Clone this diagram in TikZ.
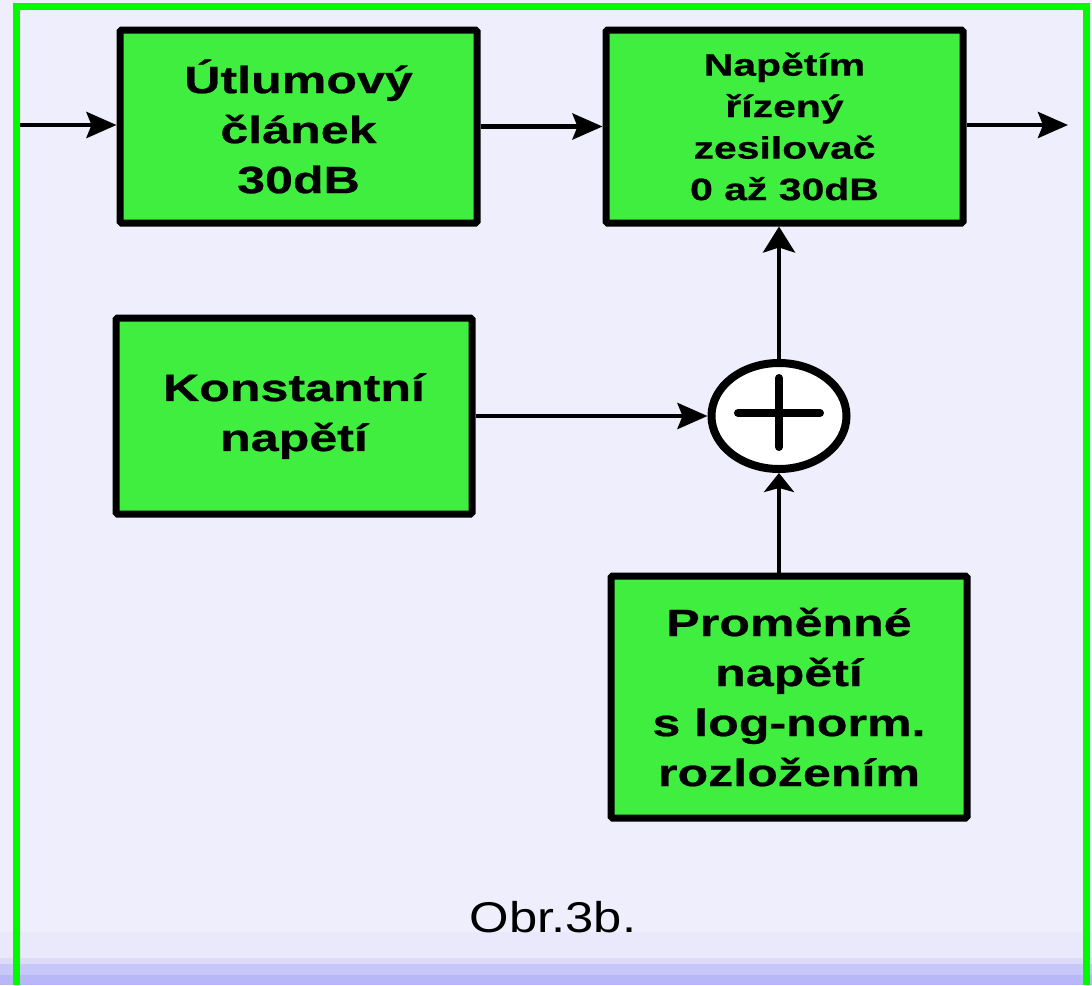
\documentclass[tikz,border=0pt]{standalone}
\usepackage{fontspec}
\usetikzlibrary{arrows.meta,shapes.geometric}
\newfontfamily\blockfont[FakeStretch=1.32,BoldFeatures={FakeBold=0.6}]{Liberation Sans}
\newfontfamily\captionfont[FakeStretch=1.18]{Liberation Sans}
\definecolor{pagebg}{RGB}{238,238,252}
\definecolor{bandA}{RGB}{233,233,251}
\definecolor{bandB}{RGB}{220,220,248}
\definecolor{bandC}{RGB}{200,200,248}
\definecolor{bandD}{RGB}{184,184,248}
\definecolor{framegreen}{RGB}{0,250,0}
\definecolor{blockgreen}{RGB}{64,238,64}
\begin{document}
\begin{tikzpicture}[x=1pt,y=-1pt,
  block/.style={draw=black, fill=blockgreen, line width=7pt, rounded corners=1.5pt,
    align=center, inner sep=0pt, font=\blockfont\bfseries\fontsize{38}{50}\selectfont},
  smallblock/.style={block, font=\blockfont\bfseries\fontsize{31}{41.5}\selectfont},
  arr/.style={line width=4.5pt, -{Stealth[length=30pt,width=26pt,inset=5pt]}},
  arrup/.style={line width=4.5pt, -{Stealth[length=26pt,width=32pt,inset=5pt]}},
  arrshort/.style={line width=4.5pt, -{Stealth[length=19pt,width=30pt,inset=4pt]}}]
  \useasboundingbox (0,0) rectangle (1092,985);
  % page background with the shaded strip along the bottom
  \fill[pagebg] (0,0) rectangle (1092,985);
  \fill[bandA] (0,932) rectangle (1092,958);
  \fill[bandB] (0,958) rectangle (1092,964);
  \fill[bandC] (0,964) rectangle (1092,975);
  \fill[bandD] (0,975) rectangle (1092,985);
  % green frame, open at the bottom
  \draw[framegreen, line width=7pt] (16,985) -- (16,6.5) -- (1086,6.5) -- (1086,985);

  % blocks
  \node[block, minimum width=357pt, minimum height=193pt] (att) at (298.5,126.5)
    {Útlumový\\článek\\30dB};
  \node[smallblock, minimum width=357pt, minimum height=193pt] (vca) at (784.5,126.5)
    {Napětím\\řízený\\zesilovač\\0 až 30dB};
  \node[block, minimum width=356pt, minimum height=196pt] (const) at (294,416)
    {Konstantní\\napětí};
  \node[block, minimum width=356pt, minimum height=242pt] (var) at (789,697)
    {Proměnné\\napětí\\s log-norm.\\rozložením};

  % summing junction
  \node[ellipse, draw=black, fill=white, line width=8pt, inner sep=0pt,
    minimum width=135pt, minimum height=106pt] (sum) at (779,416) {};
  \draw[line width=8pt, line cap=round] (sum.center) ++(-41,-3) -- ++(82,0);
  \draw[line width=8pt, line cap=round] (sum.center) ++(0,-38) -- ++(0,69);

  % signal path
  \coordinate (in) at (20,125);
  \coordinate (out) at (1068,125);
  \draw[arr] (in) -- (att.west |- in);
  \draw[arr] (att.east) -- (vca.west);
  \draw[arr] (vca.east |- out) -- (out);
  \draw[arr] (const.east) -- (sum.west);
  \draw[arrup] (sum.north) -- (sum.north |- vca.south);
  \draw[arrshort] (sum.south |- var.north) -- (sum.south);

  \node[anchor=base, font=\captionfont\fontsize{43}{50}\selectfont] (caption) at (553,932) {Obr.3b.};
\end{tikzpicture}
\end{document}
